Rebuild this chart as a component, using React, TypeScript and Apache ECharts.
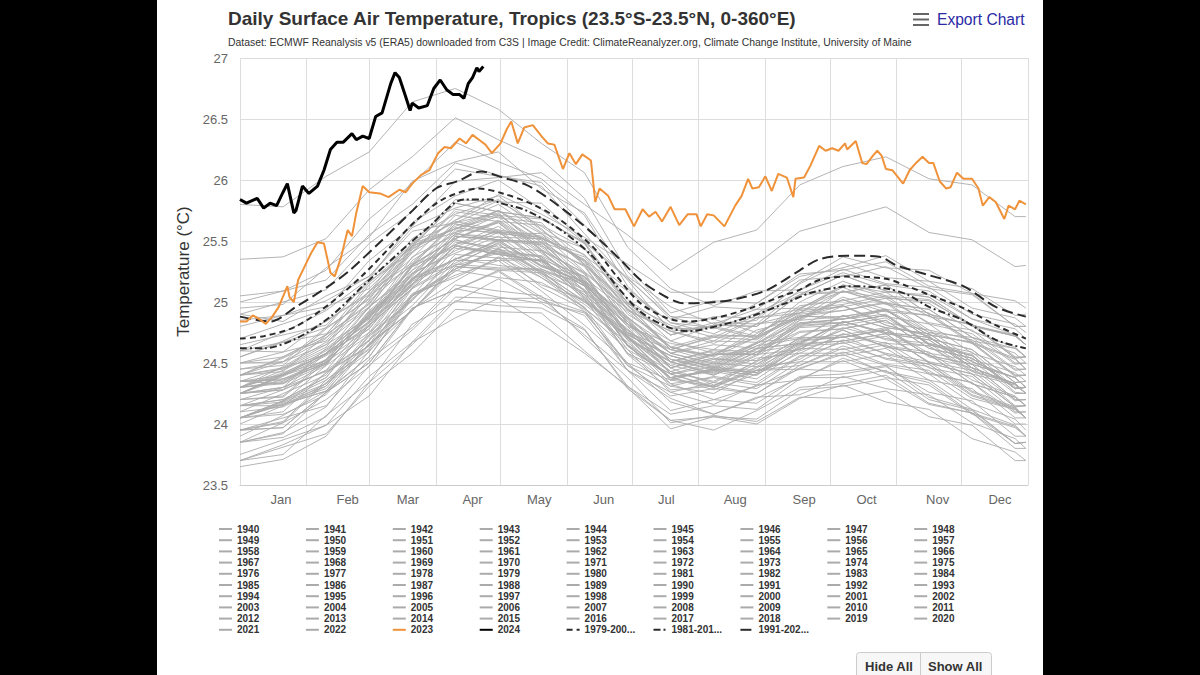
import React, { useEffect, useRef } from "react";
import * as echarts from "echarts";

const FONT = "'Liberation Sans', Arial, Helvetica, sans-serif";

const monthNames = ["Jan", "Feb", "Mar", "Apr", "May", "Jun", "Jul", "Aug", "Sep", "Oct", "Nov", "Dec"];
const monthStartDays = [0, 31, 60, 91, 121, 152, 182, 213, 244, 274, 305, 335, 366];
const monthLabelDays = [19, 50, 78, 108, 139, 169, 198, 230, 262, 291, 324, 353];

const grayDays = [0, 20, 40, 60, 80, 100, 120, 140, 160, 180, 200, 220, 240, 260, 280, 300, 320, 340, 360, 365];

const t1940 = [24.25, 24.37, 24.49, 24.89, 25.17, 25.54, 25.5, 25.47, 25.14, 24.82, 24.46, 24.57, 24.57, 24.82, 24.86, 24.94, 24.75, 24.71, 24.45, 24.45];
const t1941 = [24.45, 24.48, 24.78, 25.03, 25.49, 25.65, 25.8, 25.57, 25.44, 24.99, 24.81, 24.71, 24.87, 24.91, 25.09, 24.98, 24.91, 24.67, 24.54, 24.45];
const t1942 = [24.4, 24.51, 24.65, 24.87, 25.29, 25.47, 25.58, 25.32, 25.03, 24.71, 24.38, 24.28, 24.41, 24.58, 24.58, 24.65, 24.42, 24.34, 24.09, 24.1];
const t1943 = [24.05, 24.08, 24.24, 24.65, 24.93, 25.26, 25.2, 25.16, 24.96, 24.48, 24.23, 24.29, 24.25, 24.48, 24.62, 24.49, 24.44, 24.21, 24.12, 24.05];
const t1944 = [24.05, 24.18, 24.31, 24.72, 25.01, 25.39, 25.36, 25.34, 25.02, 24.71, 24.36, 24.46, 24.44, 24.68, 24.71, 24.77, 24.56, 24.49, 24.2, 24.2];
const t1945 = [24.15, 24.15, 24.42, 24.64, 25.07, 25.2, 25.36, 25.14, 25.02, 24.58, 24.41, 24.3, 24.44, 24.48, 24.64, 24.54, 24.49, 24.26, 24.13, 24.05];
const t1946 = [24.05, 24.19, 24.36, 24.61, 25.06, 25.27, 25.43, 25.22, 24.98, 24.71, 24.43, 24.34, 24.49, 24.66, 24.68, 24.74, 24.5, 24.41, 24.14, 24.15];
const t1947 = [24.15, 24.2, 24.38, 24.81, 25.11, 25.46, 25.39, 25.34, 25.13, 24.64, 24.38, 24.43, 24.37, 24.6, 24.72, 24.57, 24.49, 24.24, 24.13, 24.05];
const t1948 = [24.05, 24.16, 24.27, 24.66, 24.93, 25.29, 25.26, 25.24, 24.92, 24.61, 24.26, 24.34, 24.29, 24.51, 24.51, 24.57, 24.36, 24.29, 24.0, 24.0];
const t1949 = [23.95, 23.97, 24.26, 24.5, 24.95, 25.1, 25.25, 25.02, 24.89, 24.44, 24.26, 24.16, 24.32, 24.36, 24.54, 24.43, 24.36, 24.12, 23.99, 23.9];
const t1950 = [23.7, 23.83, 23.99, 24.23, 24.67, 24.87, 25.03, 24.82, 24.58, 24.31, 24.03, 23.95, 24.11, 24.3, 24.33, 24.4, 24.17, 24.09, 23.84, 23.85];
const t1951 = [23.85, 23.93, 24.14, 24.6, 24.93, 25.31, 25.28, 25.27, 25.1, 24.65, 24.43, 24.53, 24.52, 24.8, 24.97, 24.83, 24.77, 24.53, 24.42, 24.35];
const t1952 = [24.3, 24.4, 24.5, 24.88, 25.14, 25.49, 25.45, 25.42, 25.09, 24.77, 24.41, 24.5, 24.47, 24.69, 24.71, 24.78, 24.58, 24.52, 24.25, 24.25];
const t1953 = [24.25, 24.28, 24.58, 24.83, 25.29, 25.45, 25.59, 25.35, 25.21, 24.75, 24.56, 24.46, 24.62, 24.66, 24.84, 24.74, 24.69, 24.46, 24.33, 24.25];
const t1954 = [24.2, 24.3, 24.43, 24.64, 25.05, 25.22, 25.34, 25.09, 24.81, 24.5, 24.18, 24.08, 24.21, 24.38, 24.38, 24.44, 24.2, 24.11, 23.84, 23.85];
const t1955 = [23.85, 23.89, 24.06, 24.48, 24.77, 25.11, 25.04, 24.99, 24.78, 24.29, 24.03, 24.06, 24.0, 24.21, 24.32, 24.18, 24.12, 23.88, 23.77, 23.7];
const t1956 = [23.7, 23.81, 23.92, 24.31, 24.58, 24.94, 24.92, 24.91, 24.6, 24.3, 23.96, 24.06, 24.04, 24.28, 24.31, 24.37, 24.16, 24.09, 23.8, 23.8];
const t1957 = [23.85, 23.92, 24.26, 24.55, 25.05, 25.25, 25.44, 25.25, 25.16, 24.75, 24.61, 24.56, 24.77, 24.86, 25.09, 25.03, 25.01, 24.81, 24.73, 24.65];
const t1958 = [24.8, 24.89, 25.01, 25.21, 25.61, 25.77, 25.87, 25.6, 25.3, 24.97, 24.63, 24.53, 24.66, 24.83, 24.83, 24.89, 24.65, 24.56, 24.29, 24.3];
const t1959 = [24.25, 24.28, 24.44, 24.85, 25.13, 25.46, 25.39, 25.34, 25.13, 24.64, 24.38, 24.44, 24.4, 24.63, 24.77, 24.63, 24.57, 24.33, 24.22, 24.15];
const t1960 = [24.15, 24.28, 24.44, 24.68, 25.12, 25.32, 25.47, 25.25, 25.0, 24.72, 24.43, 24.35, 24.51, 24.7, 24.73, 24.79, 24.55, 24.46, 24.19, 24.2];
const t1961 = [24.2, 24.23, 24.53, 24.78, 25.24, 25.4, 25.54, 25.3, 25.16, 24.7, 24.51, 24.4, 24.54, 24.58, 24.74, 24.64, 24.59, 24.36, 24.23, 24.15];
const t1962 = [24.1, 24.14, 24.31, 24.73, 25.02, 25.36, 25.3, 25.26, 25.06, 24.58, 24.33, 24.38, 24.32, 24.55, 24.67, 24.53, 24.47, 24.23, 24.12, 24.05];
const t1963 = [24.05, 24.17, 24.29, 24.69, 24.97, 25.34, 25.34, 25.35, 25.06, 24.78, 24.46, 24.57, 24.57, 24.82, 24.86, 24.93, 24.73, 24.67, 24.4, 24.4];
const t1964 = [24.35, 24.33, 24.58, 24.78, 25.19, 25.3, 25.4, 25.12, 24.94, 24.44, 24.21, 24.08, 24.22, 24.24, 24.39, 24.29, 24.24, 24.01, 23.88, 23.8];
const t1965 = [23.85, 24.01, 24.2, 24.47, 24.94, 25.17, 25.37, 25.2, 25.0, 24.77, 24.53, 24.48, 24.66, 24.88, 24.93, 24.99, 24.75, 24.66, 24.39, 24.4];
const t1966 = [24.35, 24.37, 24.52, 24.92, 25.19, 25.51, 25.43, 25.37, 25.15, 24.65, 24.38, 24.44, 24.4, 24.63, 24.77, 24.63, 24.57, 24.33, 24.22, 24.15];
const t1967 = [24.05, 24.16, 24.27, 24.66, 24.93, 25.29, 25.27, 25.26, 24.95, 24.65, 24.31, 24.39, 24.34, 24.56, 24.56, 24.62, 24.41, 24.34, 24.05, 24.05];
const t1968 = [23.95, 23.97, 24.26, 24.5, 24.95, 25.1, 25.26, 25.04, 24.92, 24.48, 24.31, 24.25, 24.44, 24.53, 24.74, 24.66, 24.64, 24.43, 24.33, 24.25];
const t1969 = [24.3, 24.44, 24.61, 24.86, 25.31, 25.52, 25.66, 25.43, 25.17, 24.88, 24.58, 24.49, 24.64, 24.81, 24.83, 24.89, 24.65, 24.56, 24.29, 24.3];
const t1970 = [24.3, 24.33, 24.49, 24.9, 25.18, 25.51, 25.41, 25.33, 25.09, 24.57, 24.28, 24.31, 24.25, 24.46, 24.57, 24.42, 24.34, 24.09, 23.98, 23.9];
const t1971 = [23.75, 23.87, 23.99, 24.39, 24.67, 25.04, 25.03, 25.03, 24.73, 24.44, 24.11, 24.2, 24.17, 24.39, 24.41, 24.47, 24.26, 24.19, 23.9, 23.9];
const t1972 = [23.95, 24.01, 24.34, 24.62, 25.11, 25.3, 25.49, 25.3, 25.21, 24.8, 24.66, 24.61, 24.82, 24.91, 25.14, 25.08, 25.06, 24.86, 24.78, 24.7];
const t1973 = [24.85, 24.89, 24.96, 25.11, 25.46, 25.57, 25.65, 25.36, 25.04, 24.69, 24.33, 24.2, 24.31, 24.45, 24.43, 24.48, 24.22, 24.12, 23.84, 23.85];
const t1974 = [23.65, 23.71, 23.9, 24.34, 24.65, 25.01, 24.97, 24.95, 24.77, 24.31, 24.08, 24.15, 24.12, 24.37, 24.52, 24.38, 24.32, 24.08, 23.97, 23.9];
const t1975 = [23.95, 24.05, 24.15, 24.53, 24.79, 25.14, 25.09, 25.05, 24.71, 24.38, 24.01, 24.07, 24.02, 24.22, 24.21, 24.27, 24.06, 23.99, 23.7, 23.7];
const t1976 = [23.7, 23.75, 24.07, 24.34, 24.82, 25.0, 25.19, 25.0, 24.91, 24.5, 24.36, 24.31, 24.52, 24.61, 24.84, 24.75, 24.71, 24.49, 24.38, 24.3];
const t1977 = [24.25, 24.39, 24.56, 24.81, 25.26, 25.47, 25.62, 25.4, 25.15, 24.87, 24.58, 24.5, 24.66, 24.85, 24.88, 24.94, 24.7, 24.61, 24.34, 24.35];
const t1978 = [24.35, 24.36, 24.5, 24.89, 25.15, 25.46, 25.39, 25.34, 25.13, 24.64, 24.38, 24.45, 24.42, 24.67, 24.82, 24.69, 24.64, 24.41, 24.32, 24.25];
const t1979 = [24.3, 24.41, 24.52, 24.91, 25.18, 25.54, 25.51, 25.49, 25.17, 24.86, 24.51, 24.61, 24.59, 24.83, 24.86, 24.93, 24.73, 24.67, 24.4, 24.4];
const t1980 = [24.4, 24.43, 24.73, 24.98, 25.44, 25.6, 25.72, 25.46, 25.3, 24.82, 24.61, 24.51, 24.67, 24.71, 24.89, 24.79, 24.74, 24.51, 24.38, 24.3];
const t1981 = [24.3, 24.42, 24.57, 24.8, 25.23, 25.42, 25.57, 25.35, 25.1, 24.82, 24.53, 24.44, 24.59, 24.76, 24.78, 24.85, 24.62, 24.54, 24.29, 24.3];
const t1982 = [24.25, 24.3, 24.48, 24.91, 25.21, 25.56, 25.53, 25.52, 25.35, 24.9, 24.68, 24.81, 24.85, 25.16, 25.37, 25.28, 25.26, 25.07, 25.01, 24.95];
const t1983 = [25.0, 25.09, 25.18, 25.55, 25.8, 26.14, 26.04, 25.95, 25.56, 25.18, 24.76, 24.8, 24.72, 24.89, 24.86, 24.9, 24.66, 24.57, 24.26, 24.25];
const t1984 = [24.2, 24.22, 24.51, 24.75, 25.2, 25.35, 25.48, 25.23, 25.08, 24.61, 24.41, 24.31, 24.47, 24.51, 24.69, 24.58, 24.51, 24.27, 24.14, 24.05];
const t1985 = [24.0, 24.15, 24.33, 24.59, 25.05, 25.27, 25.42, 25.2, 24.95, 24.67, 24.38, 24.3, 24.46, 24.65, 24.68, 24.74, 24.5, 24.41, 24.14, 24.15];
const t1986 = [24.15, 24.2, 24.38, 24.81, 25.11, 25.46, 25.41, 25.38, 25.19, 24.72, 24.48, 24.58, 24.57, 24.85, 25.02, 24.92, 24.89, 24.68, 24.62, 24.55];
const t1987 = [24.55, 24.67, 24.79, 25.19, 25.47, 25.84, 25.82, 25.81, 25.5, 25.2, 24.86, 24.96, 24.94, 25.18, 25.21, 25.29, 25.11, 25.06, 24.8, 24.8];
const t1988 = [24.9, 24.84, 25.05, 25.21, 25.58, 25.65, 25.73, 25.43, 25.23, 24.71, 24.46, 24.32, 24.44, 24.45, 24.59, 24.48, 24.41, 24.17, 24.04, 23.95];
const t1989 = [23.9, 24.07, 24.27, 24.55, 25.03, 25.27, 25.44, 25.24, 25.01, 24.75, 24.48, 24.4, 24.56, 24.75, 24.78, 24.85, 24.62, 24.54, 24.29, 24.3];
const t1990 = [24.35, 24.4, 24.58, 25.01, 25.31, 25.66, 25.59, 25.54, 25.33, 24.84, 24.58, 24.65, 24.62, 24.87, 25.02, 24.88, 24.82, 24.58, 24.47, 24.4];
const t1991 = [24.35, 24.46, 24.57, 24.96, 25.23, 25.59, 25.57, 25.56, 25.25, 24.95, 24.61, 24.71, 24.69, 24.93, 24.96, 25.03, 24.83, 24.77, 24.5, 24.5];
const t1992 = [24.6, 24.59, 24.85, 25.06, 25.48, 25.6, 25.7, 25.42, 25.24, 24.74, 24.51, 24.41, 24.57, 24.61, 24.79, 24.7, 24.66, 24.44, 24.33, 24.25];
const t1993 = [24.25, 24.4, 24.58, 24.84, 25.3, 25.52, 25.65, 25.41, 25.14, 24.84, 24.53, 24.45, 24.61, 24.8, 24.83, 24.89, 24.65, 24.56, 24.29, 24.3];
const t1994 = [24.3, 24.34, 24.51, 24.93, 25.22, 25.56, 25.51, 25.48, 25.29, 24.82, 24.58, 24.68, 24.67, 24.95, 25.12, 24.99, 24.94, 24.71, 24.62, 24.55];
const t1995 = [24.5, 24.59, 24.68, 25.05, 25.3, 25.64, 25.58, 25.53, 25.18, 24.84, 24.46, 24.54, 24.49, 24.71, 24.71, 24.77, 24.56, 24.49, 24.2, 24.2];
const t1996 = [24.15, 24.18, 24.48, 24.73, 25.19, 25.35, 25.5, 25.27, 25.14, 24.69, 24.51, 24.42, 24.59, 24.65, 24.84, 24.75, 24.71, 24.49, 24.38, 24.3];
const t1997 = [24.3, 24.47, 24.67, 24.95, 25.43, 25.67, 25.88, 25.72, 25.53, 25.31, 25.08, 25.08, 25.31, 25.58, 25.68, 25.78, 25.57, 25.51, 25.29, 25.3];
const t1998 = [25.35, 25.37, 25.52, 25.92, 26.19, 26.51, 26.33, 26.17, 25.85, 25.25, 24.88, 24.86, 24.75, 24.91, 24.97, 24.81, 24.72, 24.46, 24.33, 24.25];
const t1999 = [24.05, 24.19, 24.33, 24.75, 25.05, 25.44, 25.4, 25.37, 25.04, 24.72, 24.36, 24.45, 24.42, 24.64, 24.66, 24.72, 24.51, 24.44, 24.15, 24.15];
const t2000 = [24.05, 24.1, 24.42, 24.69, 25.17, 25.35, 25.51, 25.29, 25.17, 24.73, 24.56, 24.46, 24.62, 24.66, 24.84, 24.74, 24.69, 24.46, 24.33, 24.25];
const t2001 = [24.25, 24.4, 24.58, 24.84, 25.3, 25.52, 25.67, 25.45, 25.2, 24.92, 24.63, 24.55, 24.71, 24.9, 24.93, 25.0, 24.77, 24.69, 24.44, 24.45];
const t2002 = [24.4, 24.45, 24.63, 25.06, 25.36, 25.71, 25.66, 25.63, 25.44, 24.97, 24.73, 24.81, 24.8, 25.06, 25.22, 25.09, 25.04, 24.81, 24.72, 24.65];
const t2003 = [24.65, 24.73, 24.81, 25.17, 25.41, 25.74, 25.69, 25.65, 25.31, 24.98, 24.61, 24.72, 24.72, 24.97, 25.01, 25.08, 24.88, 24.82, 24.55, 24.55];
const t2004 = [24.5, 24.51, 24.79, 25.02, 25.46, 25.6, 25.75, 25.52, 25.39, 24.94, 24.76, 24.68, 24.87, 24.94, 25.14, 25.04, 24.99, 24.76, 24.63, 24.55];
const t2005 = [24.55, 24.68, 24.84, 25.08, 25.52, 25.72, 25.84, 25.59, 25.31, 25.0, 24.68, 24.58, 24.71, 24.88, 24.88, 24.94, 24.7, 24.61, 24.34, 24.35];
const t2006 = [24.3, 24.35, 24.53, 24.96, 25.26, 25.61, 25.56, 25.53, 25.34, 24.87, 24.63, 24.73, 24.72, 25.0, 25.17, 25.05, 25.02, 24.8, 24.72, 24.65];
const t2007 = [24.6, 24.67, 24.74, 25.09, 25.32, 25.64, 25.57, 25.51, 25.15, 24.8, 24.41, 24.47, 24.42, 24.62, 24.61, 24.67, 24.46, 24.39, 24.1, 24.1];
const t2008 = [23.95, 24.02, 24.36, 24.65, 25.15, 25.35, 25.51, 25.29, 25.17, 24.73, 24.56, 24.47, 24.64, 24.7, 24.89, 24.79, 24.74, 24.51, 24.38, 24.3];
const t2009 = [24.25, 24.41, 24.6, 24.87, 25.34, 25.57, 25.75, 25.56, 25.34, 25.09, 24.83, 24.79, 24.99, 25.21, 25.28, 25.38, 25.17, 25.11, 24.89, 24.9];
const t2010 = [25.05, 25.09, 25.26, 25.68, 25.97, 26.31, 26.15, 26.01, 25.71, 25.13, 24.78, 24.79, 24.7, 24.88, 24.97, 24.81, 24.72, 24.46, 24.33, 24.25];
const t2011 = [24.1, 24.25, 24.4, 24.83, 25.14, 25.54, 25.51, 25.49, 25.17, 24.86, 24.51, 24.6, 24.57, 24.79, 24.81, 24.87, 24.66, 24.59, 24.3, 24.3];
const t2012 = [24.25, 24.3, 24.62, 24.89, 25.37, 25.55, 25.71, 25.49, 25.37, 24.93, 24.76, 24.66, 24.82, 24.86, 25.04, 24.94, 24.89, 24.66, 24.53, 24.45];
const t2013 = [24.4, 24.54, 24.71, 24.96, 25.41, 25.62, 25.75, 25.51, 25.24, 24.94, 24.63, 24.56, 24.74, 24.94, 24.98, 25.05, 24.82, 24.74, 24.49, 24.5];
const t2014 = [24.45, 24.51, 24.7, 25.14, 25.45, 25.81, 25.74, 25.69, 25.48, 24.99, 24.73, 24.83, 24.82, 25.1, 25.27, 25.15, 25.12, 24.9, 24.82, 24.75];
const t2015 = [24.7, 24.82, 24.94, 25.34, 25.62, 25.99, 26.02, 26.06, 25.8, 25.55, 25.26, 25.49, 25.59, 25.96, 26.11, 26.19, 26.01, 25.96, 25.7, 25.7];
const t2016 = [25.8, 25.78, 26.03, 26.23, 26.64, 26.75, 26.58, 26.3, 26.06, 25.45, 25.11, 24.97, 25.09, 25.1, 25.24, 25.14, 25.09, 24.86, 24.73, 24.65];
const t2017 = [24.6, 24.75, 24.93, 25.19, 25.65, 25.87, 26.0, 25.76, 25.49, 25.19, 24.88, 24.78, 24.91, 25.08, 25.08, 25.14, 24.9, 24.81, 24.54, 24.55];
const t2018 = [24.4, 24.46, 24.65, 25.09, 25.4, 25.76, 25.71, 25.68, 25.49, 25.02, 24.78, 24.88, 24.87, 25.15, 25.32, 25.2, 25.17, 24.95, 24.87, 24.8];
const t2019 = [24.9, 25.0, 25.1, 25.48, 25.74, 26.09, 26.03, 25.98, 25.63, 25.29, 24.91, 25.01, 24.99, 25.23, 25.26, 25.33, 25.13, 25.07, 24.8, 24.8];
const t2020 = [24.95, 24.98, 25.28, 25.53, 25.99, 26.15, 26.23, 25.93, 25.73, 25.21, 24.96, 24.82, 24.94, 24.95, 25.09, 24.99, 24.94, 24.71, 24.58, 24.5];
const t2021 = [24.4, 24.55, 24.73, 24.99, 25.45, 25.67, 25.83, 25.62, 25.38, 25.11, 24.83, 24.74, 24.89, 25.06, 25.08, 25.14, 24.9, 24.81, 24.54, 24.55];
const t2022 = [24.5, 24.55, 24.73, 25.16, 25.46, 25.81, 25.74, 25.69, 25.48, 24.99, 24.73, 24.81, 24.8, 25.06, 25.22, 25.09, 25.04, 24.81, 24.72, 24.65];

const grayValues = [
  t1940, t1941, t1942, t1943, t1944, t1945, t1946, t1947, t1948, t1949,
  t1950, t1951, t1952, t1953, t1954, t1955, t1956, t1957, t1958, t1959,
  t1960, t1961, t1962, t1963, t1964, t1965, t1966, t1967, t1968, t1969,
  t1970, t1971, t1972, t1973, t1974, t1975, t1976, t1977, t1978, t1979,
  t1980, t1981, t1982, t1983, t1984, t1985, t1986, t1987, t1988, t1989,
  t1990, t1991, t1992, t1993, t1994, t1995, t1996, t1997, t1998, t1999,
  t2000, t2001, t2002, t2003, t2004, t2005, t2006, t2007, t2008, t2009,
  t2010, t2011, t2012, t2013, t2014, t2015, t2016, t2017, t2018, t2019,
  t2020, t2021, t2022,
];
const grayYears = grayValues.map((_, i) => 1940 + i);

const days2023 = [0, 3, 6, 9, 12, 15, 18, 22, 23, 25, 27, 30, 33, 36, 39, 42, 44, 47, 50, 52, 54, 57, 60, 65, 69, 74, 77, 80, 84, 88, 92, 95, 98, 102, 105, 108, 111, 114, 117, 121, 124, 126, 129, 132, 136, 140, 143, 146, 150, 153, 156, 159, 163, 165, 167, 171, 174, 179, 183, 187, 190, 193, 196, 200, 204, 208, 212, 214, 217, 220, 225, 230, 233, 236, 238, 241, 244, 247, 250, 254, 257, 258, 262, 265, 269, 272, 275, 278, 281, 282, 286, 289, 291, 294, 296, 298, 300, 303, 308, 311, 314, 317, 320, 322, 325, 328, 330, 333, 336, 340, 343, 345, 348, 351, 355, 357, 360, 362, 365];
const temp2023 = [24.84, 24.84, 24.89, 24.86, 24.82, 24.88, 24.96, 25.13, 25.04, 25.0, 25.18, 25.29, 25.4, 25.49, 25.48, 25.24, 25.21, 25.37, 25.59, 25.54, 25.73, 25.95, 25.9, 25.89, 25.86, 25.92, 25.9, 25.97, 26.04, 26.08, 26.22, 26.27, 26.26, 26.34, 26.3, 26.37, 26.33, 26.29, 26.22, 26.3, 26.42, 26.48, 26.3, 26.43, 26.45, 26.36, 26.3, 26.29, 26.09, 26.22, 26.13, 26.21, 26.16, 25.82, 25.93, 25.87, 25.76, 25.76, 25.62, 25.76, 25.7, 25.74, 25.66, 25.78, 25.63, 25.72, 25.72, 25.62, 25.72, 25.71, 25.62, 25.79, 25.87, 26.01, 25.93, 25.94, 26.03, 25.91, 26.05, 26.02, 25.86, 26.01, 26.02, 26.12, 26.28, 26.24, 26.26, 26.24, 26.3, 26.25, 26.32, 26.14, 26.13, 26.2, 26.24, 26.2, 26.09, 26.08, 25.97, 26.08, 26.14, 26.19, 26.14, 26.14, 25.99, 25.93, 25.94, 26.06, 26.01, 26.01, 25.93, 25.79, 25.86, 25.82, 25.68, 25.79, 25.76, 25.83, 25.8];

const days2024 = [0, 3, 8, 11, 14, 17, 20, 22, 25, 26, 29, 32, 36, 39, 42, 45, 48, 52, 54, 57, 60, 63, 66, 70, 72, 74, 77, 79, 80, 83, 87, 90, 93, 96, 99, 102, 104, 106, 108, 110, 111, 113];
const temp2024 = [25.84, 25.81, 25.85, 25.77, 25.81, 25.79, 25.9, 25.97, 25.73, 25.75, 25.95, 25.89, 25.95, 26.08, 26.25, 26.31, 26.31, 26.38, 26.33, 26.36, 26.34, 26.52, 26.55, 26.79, 26.88, 26.84, 26.68, 26.57, 26.63, 26.59, 26.61, 26.75, 26.82, 26.74, 26.7, 26.7, 26.67, 26.79, 26.84, 26.92, 26.89, 26.93];

const daysMean1979 = [0, 11, 26, 42, 57, 73, 82, 94, 111, 122, 136, 149, 164, 175, 186, 198, 208, 221, 237, 252, 260, 269, 282, 300, 310, 320, 336, 351, 365];
const mean1979 = [24.7, 24.72, 24.8, 24.99, 25.22, 25.51, 25.67, 25.84, 25.93, 25.89, 25.8, 25.67, 25.45, 25.21, 24.99, 24.87, 24.84, 24.87, 24.95, 25.05, 25.1, 25.18, 25.21, 25.19, 25.13, 25.06, 24.95, 24.81, 24.7];

const daysMean1981 = [0, 11, 26, 42, 57, 73, 88, 104, 116, 121, 133, 149, 164, 175, 186, 198, 208, 221, 237, 252, 266, 285, 300, 310, 320, 336, 351, 365];
const mean1981 = [24.62, 24.62, 24.7, 24.88, 25.13, 25.39, 25.62, 25.84, 25.84, 25.81, 25.75, 25.59, 25.37, 25.13, 24.92, 24.8, 24.76, 24.8, 24.88, 24.98, 25.08, 25.13, 25.11, 25.06, 24.96, 24.85, 24.69, 24.62];

const daysMean1991 = [0, 14, 26, 42, 51, 65, 79, 91, 101, 112, 122, 133, 144, 158, 167, 177, 186, 195, 206, 221, 232, 245, 260, 269, 282, 297, 305, 320, 336, 351, 365];
const mean1991 = [24.88, 24.84, 24.96, 25.14, 25.26, 25.49, 25.73, 25.93, 25.99, 26.07, 26.02, 25.96, 25.84, 25.65, 25.51, 25.34, 25.18, 25.07, 24.99, 25.0, 25.03, 25.1, 25.26, 25.35, 25.38, 25.37, 25.3, 25.22, 25.13, 24.96, 24.88];

const meanNames = ["1979-2000 mean", "1981-2010 mean", "1991-2020 mean"];

const pair = (days: number[], vals: number[]) => days.map((d, i) => [d, vals[i]]);

function buildOption() {
  const categories = Array.from({ length: 367 }, (_, i) => String(i));
  const startSet = new Set(monthStartDays);
  const labelMap: Record<string, string> = {};
  monthLabelDays.forEach((d, i) => (labelMap[String(d)] = monthNames[i]));

  const base = {
    type: "line",
    symbol: "none",
    showSymbol: false,
    emphasis: { disabled: true },
    silent: true,
    animation: false,
  };

  const GRAY = "#ababab";
  const series: any[] = grayYears.map((y, k) => ({
    ...base,
    name: String(y),
    data: pair(grayDays, grayValues[k]),
    color: GRAY,
    lineStyle: { color: GRAY, width: 0.9 },
    z: 2,
  }));

  series.push({
    ...base,
    name: meanNames[0],
    data: pair(daysMean1979, mean1979),
    smooth: 0.3,
    color: "#2b2b2b",
    lineStyle: { color: "#2b2b2b", width: 2, type: [6, 4] },
    z: 4,
  });
  series.push({
    ...base,
    name: meanNames[1],
    data: pair(daysMean1981, mean1981),
    smooth: 0.3,
    color: "#2b2b2b",
    lineStyle: { color: "#2b2b2b", width: 2, type: [7, 3, 2, 3] },
    z: 4,
  });
  series.push({
    ...base,
    name: meanNames[2],
    data: pair(daysMean1991, mean1991),
    smooth: 0.3,
    color: "#2b2b2b",
    lineStyle: { color: "#2b2b2b", width: 2, type: [11, 5] },
    z: 4,
  });
  series.push({
    ...base,
    name: "2023",
    data: pair(days2023, temp2023),
    color: "#f0923a",
    lineStyle: { color: "#f0923a", width: 2 },
    z: 5,
  });
  series.push({
    ...base,
    name: "2024",
    data: pair(days2024, temp2024),
    color: "#000000",
    lineStyle: { color: "#000000", width: 3 },
    z: 6,
  });

  const legendNames = [...grayYears.map(String), "2023", "2024", ...meanNames];
  const legends = [];
  for (let r = 0; r < 10; r++) {
    legends.push({
      data: legendNames.slice(r * 9, r * 9 + 9),
      left: 61,
      top: 529 + r * 11.2 - 5.5,
      orient: "horizontal",
      padding: 0,
      itemWidth: 13,
      itemHeight: 8,
      itemGap: 13.9,
      selectedMode: false,
      itemStyle: { opacity: 0, borderWidth: 0 },
      textStyle: {
        fontSize: 10,
        fontWeight: "bold",
        color: "#333",
        fontFamily: FONT,
        width: 54,
        overflow: "truncate",
        lineHeight: 11,
      },
    });
  }

  return {
    animation: false,
    backgroundColor: "#ffffff",
    textStyle: { fontFamily: FONT },
    title: [
      {
        text: "Daily Surface Air Temperature, Tropics (23.5°S-23.5°N, 0-360°E)",
        left: 71,
        top: 9,
        padding: 0,
        textStyle: { fontSize: 19, fontWeight: "bold", color: "#333", fontFamily: FONT },
      },
      {
        text: "Dataset: ECMWF Reanalysis v5 (ERA5) downloaded from C3S | Image Credit: ClimateReanalyzer.org, Climate Change Institute, University of Maine",
        left: 71,
        top: 37,
        padding: 0,
        textStyle: { fontSize: 10.4, fontWeight: "normal", color: "#333", fontFamily: FONT },
      },
    ],
    legend: legends,
    grid: { left: 83, right: 15, top: 58, bottom: 190, containLabel: false },
    xAxis: {
      type: "category",
      data: categories,
      boundaryGap: false,
      axisLine: { show: true, lineStyle: { color: "#cccccc", width: 1 } },
      axisTick: { show: false },
      splitLine: {
        show: true,
        interval: (idx: number) => startSet.has(idx),
        lineStyle: { color: "#dddddd", width: 1 },
      },
      axisLabel: {
        interval: (idx: number) => labelMap[String(idx)] !== undefined,
        formatter: (v: string) => labelMap[v] || "",
        color: "#666",
        fontSize: 13,
        margin: 8,
        fontFamily: FONT,
      },
    },
    yAxis: {
      type: "value",
      min: 23.5,
      max: 27,
      interval: 0.5,
      axisLine: { show: false },
      axisTick: { show: false },
      splitLine: { show: true, lineStyle: { color: "#dddddd", width: 1 } },
      axisLabel: { color: "#666", fontSize: 13, margin: 12, fontFamily: FONT },
      name: "Temperature (°C)",
      nameLocation: "middle",
      nameRotate: 90,
      nameGap: 46,
      nameTextStyle: { fontSize: 17, color: "#333", fontFamily: FONT },
    },
    graphic: [
      { type: "rect", left: 756, top: 13, shape: { width: 16, height: 2 }, style: { fill: "#666" } },
      { type: "rect", left: 756, top: 18.5, shape: { width: 16, height: 2 }, style: { fill: "#666" } },
      { type: "rect", left: 756, top: 24, shape: { width: 16, height: 2 }, style: { fill: "#666" } },
      {
        type: "text",
        left: 780,
        top: 11,
        style: { text: "Export Chart", fill: "#2a2aa5", fontSize: 15.6, fontFamily: FONT },
      },
      {
        type: "rect",
        left: 699,
        top: 652,
        shape: { width: 64, height: 30, r: [3, 0, 0, 3] },
        style: { fill: "#f7f7f7", stroke: "#cccccc", lineWidth: 1 },
      },
      {
        type: "rect",
        left: 763,
        top: 652,
        shape: { width: 71, height: 30, r: [0, 3, 3, 0] },
        style: { fill: "#f7f7f7", stroke: "#cccccc", lineWidth: 1 },
      },
      {
        type: "text",
        left: 708,
        top: 660,
        style: { text: "Hide All", fill: "#333", fontSize: 13, fontWeight: "bold", fontFamily: FONT },
      },
      {
        type: "text",
        left: 771,
        top: 660,
        style: { text: "Show All", fill: "#333", fontSize: 13, fontWeight: "bold", fontFamily: FONT },
      },
    ],
    series,
  };
}

export default function App() {
  const ref = useRef<HTMLDivElement>(null);
  useEffect(() => {
    if (!ref.current) return;
    const chart = echarts.init(ref.current, null, { renderer: "svg" });
    chart.setOption(buildOption() as any);
    return () => chart.dispose();
  }, []);
  return (
    <div style={{ position: "fixed", left: 0, top: 0, width: 1200, height: 675, background: "#000", overflow: "hidden" }}>
      <div ref={ref} style={{ position: "absolute", left: 157, top: 0, width: 886, height: 675, background: "#fff" }} />
    </div>
  );
}
